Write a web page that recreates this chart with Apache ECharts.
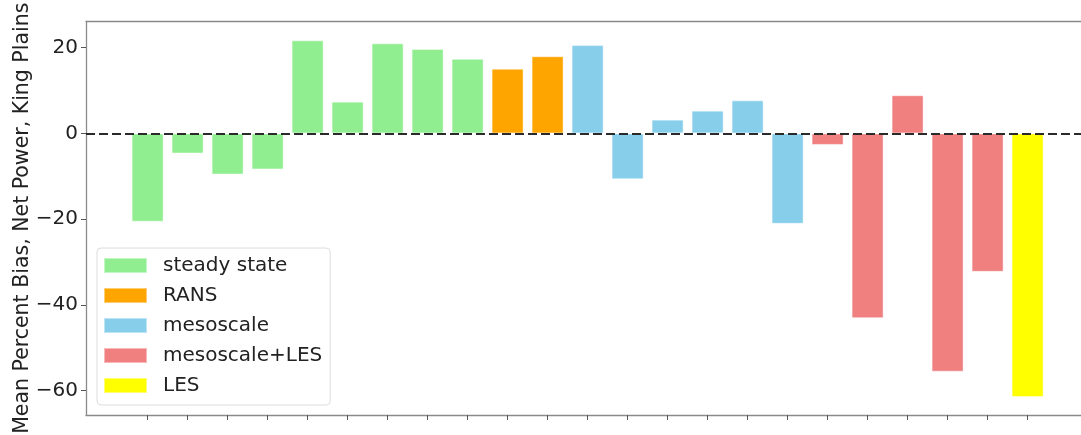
<!DOCTYPE html>
<html>
<head>
<meta charset="utf-8">
<script src="https://cdn.jsdelivr.net/npm/echarts@6/dist/echarts.min.js"></script>
<style>html,body{margin:0;padding:0;background:#fff}#c{width:1081px;height:435px}</style>
</head>
<body>
<div id="c"></div>
<script>
// bar index (category position) and value for each group
const steadyState = [[0,-20.6],[1,-4.7],[2,-9.6],[3,-8.4],[4,21.7],[5,7.4],[6,21.0],[7,19.7],[8,17.4]];
const rans = [[9,15.1],[10,18.0]];
const mesoscale = [[11,20.6],[12,-10.7],[13,3.2],[14,5.3],[15,7.7],[16,-21.1]];
const mesoscaleLES = [[17,-2.7],[18,-43.1],[19,8.9],[20,-55.6],[21,-32.3]];
const les = [[22,-61.5]];
const xTicks = [0,1,2,3,4,5,6,7,8,9,10,11,12,13,14,15,16,17,18,19,20,21,22];
const yTicks = [-60,-40,-20,0,20];

const FONT = 'DejaVu Sans';
const SPINE = {show:true, onZero:false, lineStyle:{color:'#8a8a8a', width:1.3}};
const chart = echarts.init(document.getElementById('c'), null, {renderer:'canvas'});
function mk(name, data, color, extra){
  return Object.assign({
    name, type:'bar', data, barWidth:32, barGap:'-100%',
    itemStyle:{color, borderColor:'rgba(255,255,255,0.45)', borderWidth:1},
    emphasis:{disabled:true}, silent:true
  }, extra||{});
}
chart.setOption({
  animation:false,
  grid:{left:86, top:21.5, bottom:20, right:0, containLabel:false, outerBoundsMode:'none'},
  xAxis:[{type:'value', min:-1.54, max:23.335, position:'bottom',
    axisLine:SPINE, splitLine:{show:false},
    axisTick:{show:true, customValues:xTicks, length:5, lineStyle:{color:'#555', width:1}},
    axisLabel:{show:false}},
    {type:'value', min:-1.54, max:23.335, position:'top',
    axisLine:SPINE, splitLine:{show:false}, axisTick:{show:false}, axisLabel:{show:false}}],
  yAxis:{type:'value', min:-65.7, max:26.1,
    axisLine:SPINE, splitLine:{show:false},
    axisTick:{show:true, customValues:yTicks, length:5, lineStyle:{color:'#555', width:1}},
    axisLabel:{customValues:yTicks, fontFamily:FONT, fontSize:20, color:'#222', margin:8,
      formatter:v=> v<0 ? '\u2212'+Math.abs(v) : String(v)},
    name:'Mean Percent Bias, Net Power, King Plains', nameLocation:'middle', nameGap:53, nameMoveOverlap:false,
    nameTextStyle:{fontFamily:FONT, fontSize:20.5, color:'#222'}},
  legend:{orient:'vertical', left:97, top:248, itemWidth:43, itemHeight:15, itemGap:10,
    padding:[7.5,8,9.5,6], backgroundColor:'rgba(255,255,255,0.85)', borderColor:'#dcdcdc', borderWidth:1, borderRadius:4,
    textStyle:{fontFamily:FONT, fontSize:20, lineHeight:20, color:'#222', padding:[0,0,0,11]},
    selectedMode:false,
    data:['steady state','RANS','mesoscale','mesoscale+LES','LES'].map(n=>({name:n, icon:'rect'}))},
  series:[
    mk('steady state', steadyState, '#90EE90', {markLine:{silent:true, symbol:['none','none'], label:{show:false},
      lineStyle:{color:'#2a2a2a', type:[9,4], width:1.9}, data:[{yAxis:0}]}}),
    mk('RANS', rans, '#FFA500'),
    mk('mesoscale', mesoscale, '#87CEEB'),
    mk('mesoscale+LES', mesoscaleLES, '#F08080'),
    mk('LES', les, '#FFFF00')
  ]
});
</script>
</body>
</html>
